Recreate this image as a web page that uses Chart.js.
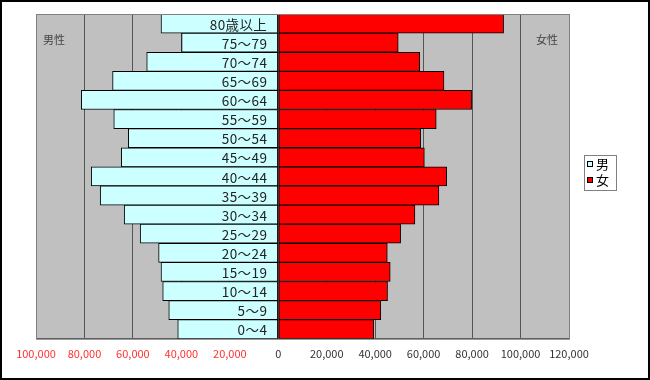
<!DOCTYPE html>
<html><head><meta charset="utf-8">
<script src="https://cdn.jsdelivr.net/npm/chart.js@4/dist/chart.umd.min.js"></script>
<style>
html,body{margin:0;padding:0;background:#fff;}
#wrap{position:relative;width:650px;height:380px;}
canvas{display:block;}
</style></head>
<body>
<div id="wrap"><canvas id="c" width="650" height="380"></canvas></div>
<script>
const categories = ['80歳以上','75～79','70～74','65～69','60～64','55～59','50～54','45～49','40～44','35～39','30～34','25～29','20～24','15～19','10～14','5～9','0～4'];
const male =   [48400, 39900, 54300, 68400, 81300, 67900, 61900, 64800, 77200, 73500, 63600, 57000, 49400, 48400, 47700, 45200, 41500];
const female = [93000, 49500, 58400, 68400, 79800, 65200, 58800, 60300, 69500, 66300, 56400, 50500, 45000, 46200, 45100, 42300, 39400];
const xTicks = [-100000,-80000,-60000,-40000,-20000,0,20000,40000,60000,80000,100000,120000];
const seriesNames = ['男','女'];
const sideLabels = ['男性','女性'];

const FONT = '"Noto Sans CJK JP", "Noto Sans", sans-serif';

const decor = {
  id:'decor',
  beforeDraw(chart){
    const {ctx, chartArea:a} = chart;
    ctx.save();
    ctx.fillStyle = '#fff';
    ctx.fillRect(0,0,chart.width,chart.height);
    ctx.fillStyle = '#C0C0C0';
    ctx.fillRect(a.left, a.top, a.right-a.left, a.bottom-a.top);
    ctx.restore();
  },
  afterDatasetsDraw(chart){
    const {ctx, chartArea:a, scales} = chart;
    const x0 = scales.x.getPixelForValue(0);
    ctx.save();
    ctx.font = '13.5px ' + FONT;
    ctx.fillStyle = '#222';
    ctx.textAlign = 'right';
    ctx.textBaseline = 'middle';
    ctx.letterSpacing = '0.4px';
    categories.forEach((c,i)=>{
      ctx.fillText(c, x0 - 11, scales.y.getPixelForValue(i) + 1);
    });
    ctx.letterSpacing = '0px';
    ctx.font = '11px ' + FONT;
    ctx.fillStyle = '#444';
    ctx.textAlign = 'left';
    ctx.fillText(sideLabels[0], a.left + 7, a.top + 26);
    ctx.textAlign = 'right';
    ctx.fillText(sideLabels[1], a.right - 11, a.top + 26);
    // plot border
    ctx.strokeStyle = '#808080';
    ctx.lineWidth = 1;
    ctx.strokeRect(a.left+0.5, a.top+0.5, a.right-a.left, a.bottom-a.top);
    // legend
    const lx = 584, ly = 155, lw = 32, lh = 35;
    ctx.fillStyle = '#fff';
    ctx.fillRect(lx, ly, lw, lh);
    ctx.strokeStyle = '#808080';
    ctx.strokeRect(lx+0.5, ly+0.5, lw, lh);
    const cols = ['#CCFFFF','#FF0000'];
    ctx.font = '13px ' + FONT;
    ctx.textAlign = 'left';
    ctx.textBaseline = 'middle';
    seriesNames.forEach((n,i)=>{
      const yy = ly + 9 + i*16;
      ctx.fillStyle = cols[i];
      ctx.fillRect(lx+3, yy-3, 6, 6);
      ctx.strokeStyle = '#000';
      ctx.strokeRect(lx+3.5, yy-2.5, 5, 5);
      ctx.fillStyle = '#000';
      ctx.fillText(n, lx+12, yy);
    });
    // outer border
    ctx.strokeStyle = '#000';
    ctx.lineWidth = 2;
    ctx.strokeRect(1,1,chart.width-2,chart.height-2);
    ctx.restore();
  }
};

new Chart(document.getElementById('c'), {
  type:'bar',
  data:{
    labels: categories,
    datasets:[
      {label:seriesNames[0], data: male.map(v=>-v), backgroundColor:'#CCFFFF', borderColor:'#000', borderWidth:1, borderSkipped:false, categoryPercentage:1, barPercentage:1},
      {label:seriesNames[1], data: female, backgroundColor:'#FF0000', borderColor:'#000', borderWidth:1, borderSkipped:false, categoryPercentage:1, barPercentage:1}
    ]
  },
  options:{
    indexAxis:'y',
    responsive:false,
    animation:false,
    devicePixelRatio:1,
    layout:{padding:{left:36, right:81, top:14, bottom:12}},
    plugins:{legend:{display:false}, tooltip:{enabled:false}},
    scales:{
      x:{
        stacked:true, min:-100000, max:120000,
        afterBuildTicks(s){ s.ticks = xTicks.map(v=>({value:v})); },
        grid:{color:'#555', drawTicks:false, lineWidth:1},
        border:{display:true, color:'#555'},
        ticks:{
          padding:8,
          font:{size:11, family:FONT},
          color:(ctx)=> ctx.tick && ctx.tick.value < 0 ? '#FF3030' : '#333',
          callback:(v)=> Math.abs(v).toLocaleString('en-US')
        }
      },
      y:{ stacked:true, display:false }
    }
  },
  plugins:[decor]
});
</script>
</body></html>
